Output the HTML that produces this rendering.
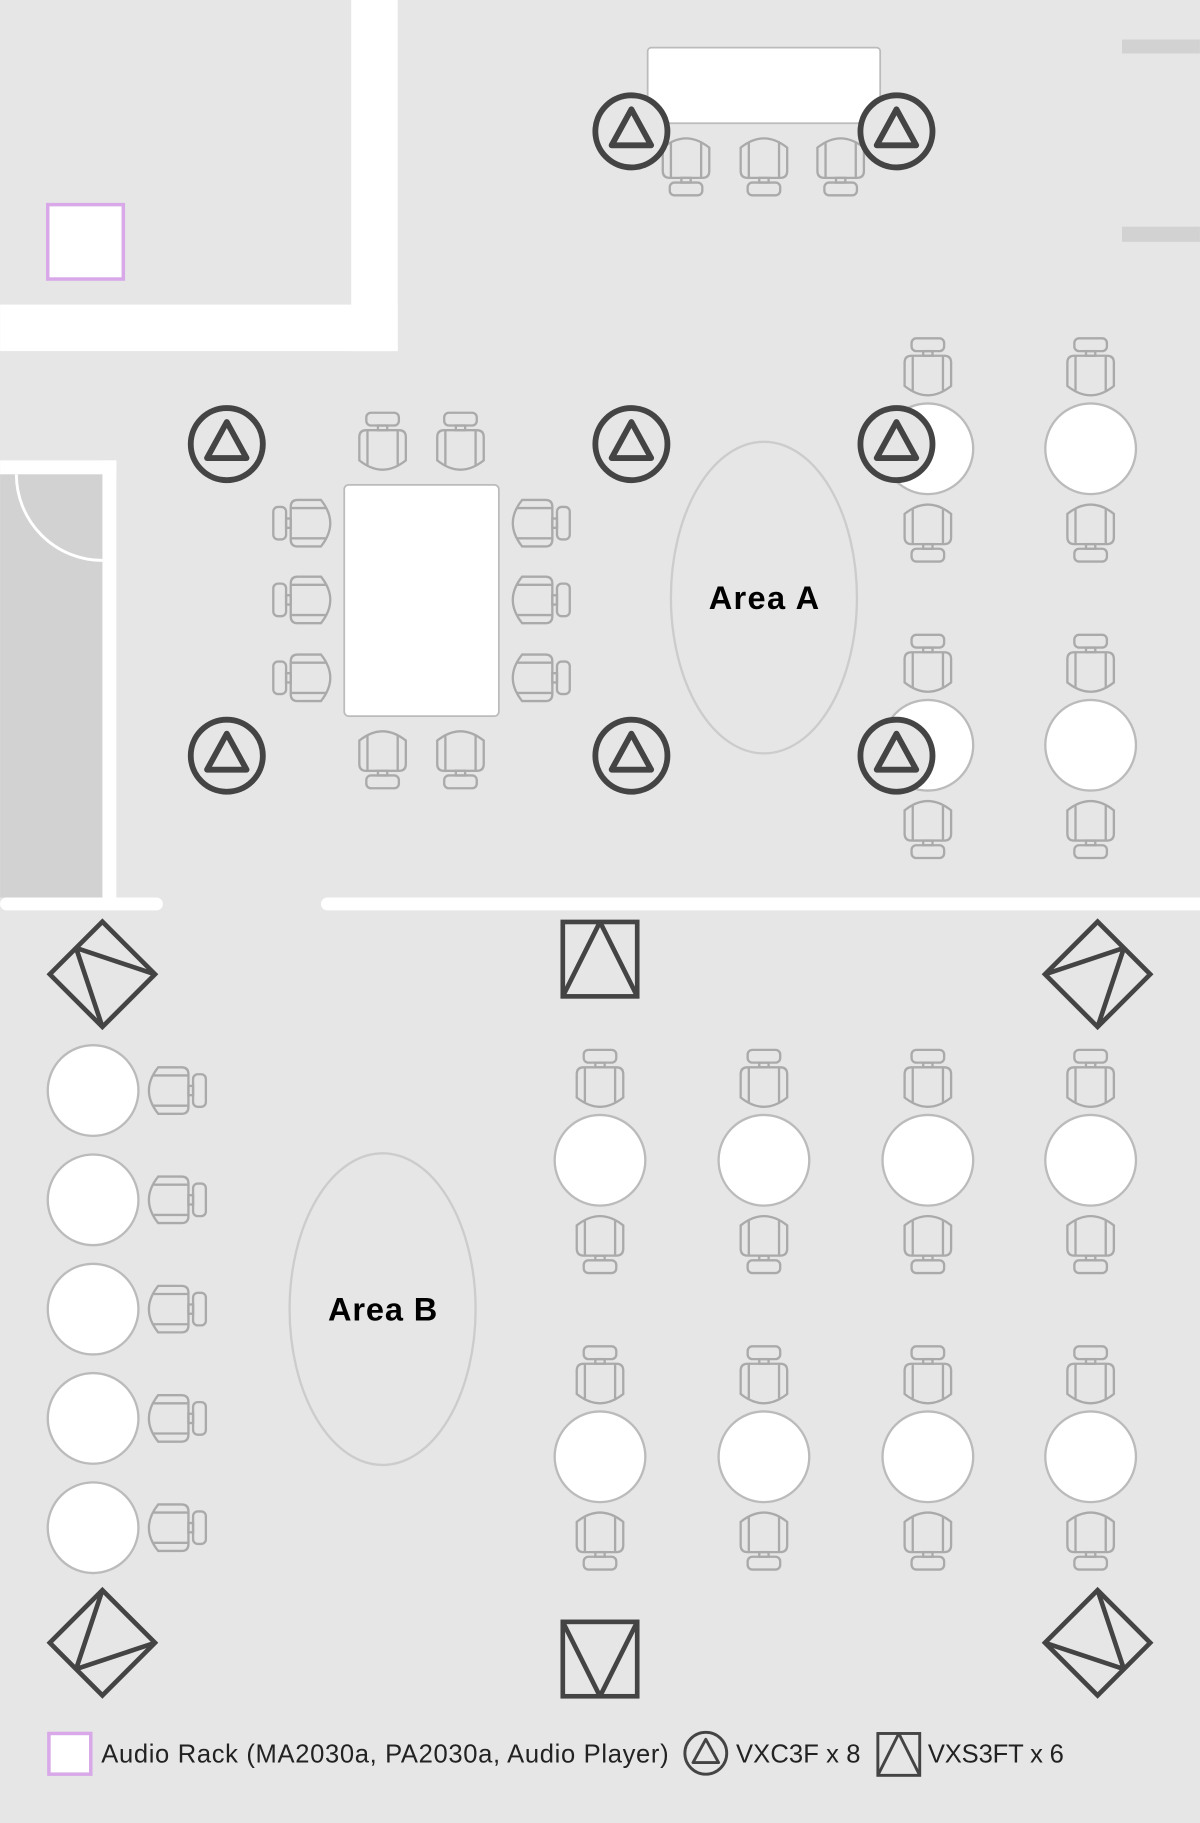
<!DOCTYPE html>
<html><head><meta charset="utf-8"><style>html,body{margin:0;padding:0;background:#e6e6e6}svg{display:block}</style></head>
<body>
<svg width="1200" height="1823" viewBox="0 0 1032 1568" xmlns="http://www.w3.org/2000/svg" font-family="Liberation Sans, sans-serif">
<defs>
<g id="ch" fill="none" stroke="#aaa" stroke-width="2">
<rect x="-14" y="-25" width="28" height="11" rx="4"/>
<rect x="-4" y="-14" width="8" height="4"/>
<path d="M-14 -10 H14 Q20 -10 20 -4 V16 Q10 24 0 24 Q-10 24 -20 16 V-4 Q-20 -10 -14 -10Z" fill="none"/>
<path d="M-13 -10 V20 M13 -10 V20"/>
</g>
<g id="sp">
<circle r="31" fill="#e6e6e6" stroke="#444" stroke-width="5"/>
<path d="M0 -19 L17 12 L-17 12 Z" fill="none" stroke="#444" stroke-width="5" stroke-linejoin="round"/>
</g>
<g id="sq" fill="none" stroke="#444" stroke-width="4">
<rect x="-32" y="-32" width="64" height="64"/>
<path d="M0 -32 L-32 32 M0 -32 L32 32"/>
</g>
<circle id="rt" r="39" fill="#fff" stroke="#bbb" stroke-width="2"/>
</defs>
<rect width="1032" height="1568" fill="#e6e6e6"/>
<rect x="302" y="0" width="40" height="302" fill="#fff"/>
<rect x="0" y="262" width="342" height="40" fill="#fff"/>
<rect x="41" y="176" width="65" height="64" fill="#fff" stroke="#d8a8e8" stroke-width="3"/>
<rect x="965" y="34" width="67" height="12" fill="#d2d2d2"/>
<rect x="965" y="195" width="67" height="13" fill="#d2d2d2"/>
<rect x="0" y="396" width="100" height="12" fill="#fff"/>
<rect x="88" y="396" width="12" height="376" fill="#fff"/>
<rect x="0" y="408" width="88" height="364" fill="#d2d2d2"/>
<path d="M14 408 A74 74 0 0 0 88 482" fill="none" stroke="#fff" stroke-width="2.5"/>
<rect x="0" y="772" width="140" height="11" rx="5.5" fill="#fff"/>
<rect x="276" y="772" width="770" height="11" rx="5.5" fill="#fff"/>
<rect x="557" y="41" width="200" height="65" rx="3" fill="#fff" stroke="#bbb" stroke-width="1.5"/>
<use href="#ch" transform="translate(590,143) rotate(180)"/>
<use href="#ch" transform="translate(657,143) rotate(180)"/>
<use href="#ch" transform="translate(723,143) rotate(180)"/>
<rect x="296" y="417" width="133" height="199" rx="4" fill="#fff" stroke="#bbb" stroke-width="1.5"/>
<use href="#ch" transform="translate(329,380)"/>
<use href="#ch" transform="translate(396,380)"/>
<use href="#ch" transform="translate(329,653) rotate(180)"/>
<use href="#ch" transform="translate(396,653) rotate(180)"/>
<use href="#ch" transform="translate(260,450) rotate(-90)"/>
<use href="#ch" transform="translate(260,516) rotate(-90)"/>
<use href="#ch" transform="translate(260,583) rotate(-90)"/>
<use href="#ch" transform="translate(465,450) rotate(90)"/>
<use href="#ch" transform="translate(465,516) rotate(90)"/>
<use href="#ch" transform="translate(465,583) rotate(90)"/>
<ellipse cx="657" cy="514" rx="80" ry="134" fill="none" stroke="#ccc" stroke-width="2"/>
<text x="657" y="524" text-anchor="middle" font-size="28" font-weight="bold" textLength="95">Area A</text>
<g>
<use href="#rt" x="798" y="386"/><use href="#rt" x="938" y="386"/>
<use href="#rt" x="798" y="641"/><use href="#rt" x="938" y="641"/>
<use href="#ch" transform="translate(798,316)"/><use href="#ch" transform="translate(938,316)"/>
<use href="#ch" transform="translate(798,458) rotate(180)"/><use href="#ch" transform="translate(938,458) rotate(180)"/>
<use href="#ch" transform="translate(798,571)"/><use href="#ch" transform="translate(938,571)"/>
<use href="#ch" transform="translate(798,713) rotate(180)"/><use href="#ch" transform="translate(938,713) rotate(180)"/>
</g>
<g>
<use href="#rt" x="516" y="998"/><use href="#rt" x="657" y="998"/><use href="#rt" x="798" y="998"/><use href="#rt" x="938" y="998"/>
<use href="#rt" x="516" y="1253"/><use href="#rt" x="657" y="1253"/><use href="#rt" x="798" y="1253"/><use href="#rt" x="938" y="1253"/>
<use href="#ch" transform="translate(516,928)"/><use href="#ch" transform="translate(657,928)"/><use href="#ch" transform="translate(798,928)"/><use href="#ch" transform="translate(938,928)"/>
<use href="#ch" transform="translate(516,1070) rotate(180)"/><use href="#ch" transform="translate(657,1070) rotate(180)"/><use href="#ch" transform="translate(798,1070) rotate(180)"/><use href="#ch" transform="translate(938,1070) rotate(180)"/>
<use href="#ch" transform="translate(516,1183)"/><use href="#ch" transform="translate(657,1183)"/><use href="#ch" transform="translate(798,1183)"/><use href="#ch" transform="translate(938,1183)"/>
<use href="#ch" transform="translate(516,1325) rotate(180)"/><use href="#ch" transform="translate(657,1325) rotate(180)"/><use href="#ch" transform="translate(798,1325) rotate(180)"/><use href="#ch" transform="translate(938,1325) rotate(180)"/>
</g>
<g>
<use href="#rt" x="80" y="938"/><use href="#rt" x="80" y="1032"/><use href="#rt" x="80" y="1126"/><use href="#rt" x="80" y="1220"/><use href="#rt" x="80" y="1314"/>
<use href="#ch" transform="translate(152,938) rotate(90)"/><use href="#ch" transform="translate(152,1032) rotate(90)"/><use href="#ch" transform="translate(152,1126) rotate(90)"/><use href="#ch" transform="translate(152,1220) rotate(90)"/><use href="#ch" transform="translate(152,1314) rotate(90)"/>
</g>
<ellipse cx="329" cy="1126" rx="80" ry="134" fill="none" stroke="#ccc" stroke-width="2"/>
<text x="329" y="1136" text-anchor="middle" font-size="28" font-weight="bold" textLength="94">Area B</text>
<use href="#sp" x="543" y="113"/><use href="#sp" x="771" y="113"/>
<use href="#sp" x="195" y="382"/><use href="#sp" x="543" y="382"/><use href="#sp" x="771" y="382"/>
<use href="#sp" x="195" y="650"/><use href="#sp" x="543" y="650"/><use href="#sp" x="771" y="650"/>
<use href="#sq" transform="translate(516,825)"/>
<use href="#sq" transform="translate(516,1427) rotate(180)"/>
<use href="#sq" transform="translate(88,838) rotate(-45)"/>
<use href="#sq" transform="translate(944,838) rotate(45)"/>
<use href="#sq" transform="translate(88,1413) rotate(-135)"/>
<use href="#sq" transform="translate(944,1413) rotate(135)"/>
<rect x="42" y="1491" width="36" height="35" fill="#fff" stroke="#d8a8e8" stroke-width="3"/>
<text x="87" y="1516" font-size="22" fill="#222" textLength="488">Audio Rack (MA2030a, PA2030a, Audio Player)</text>
<circle cx="607" cy="1508" r="18" fill="none" stroke="#444" stroke-width="2.5"/>
<path d="M607 1496 L618 1516 L596 1516 Z" fill="none" stroke="#444" stroke-width="2.5" stroke-linejoin="round"/>
<text x="633" y="1516" font-size="22" fill="#222" textLength="107">VXC3F x 8</text>
<rect x="755" y="1491" width="36" height="36" fill="none" stroke="#444" stroke-width="2.5"/>
<path d="M773 1491 L755 1527 M773 1491 L791 1527" fill="none" stroke="#444" stroke-width="2.5"/>
<text x="798" y="1516" font-size="22" fill="#222" textLength="117">VXS3FT x 6</text>
</svg>
</body></html>
